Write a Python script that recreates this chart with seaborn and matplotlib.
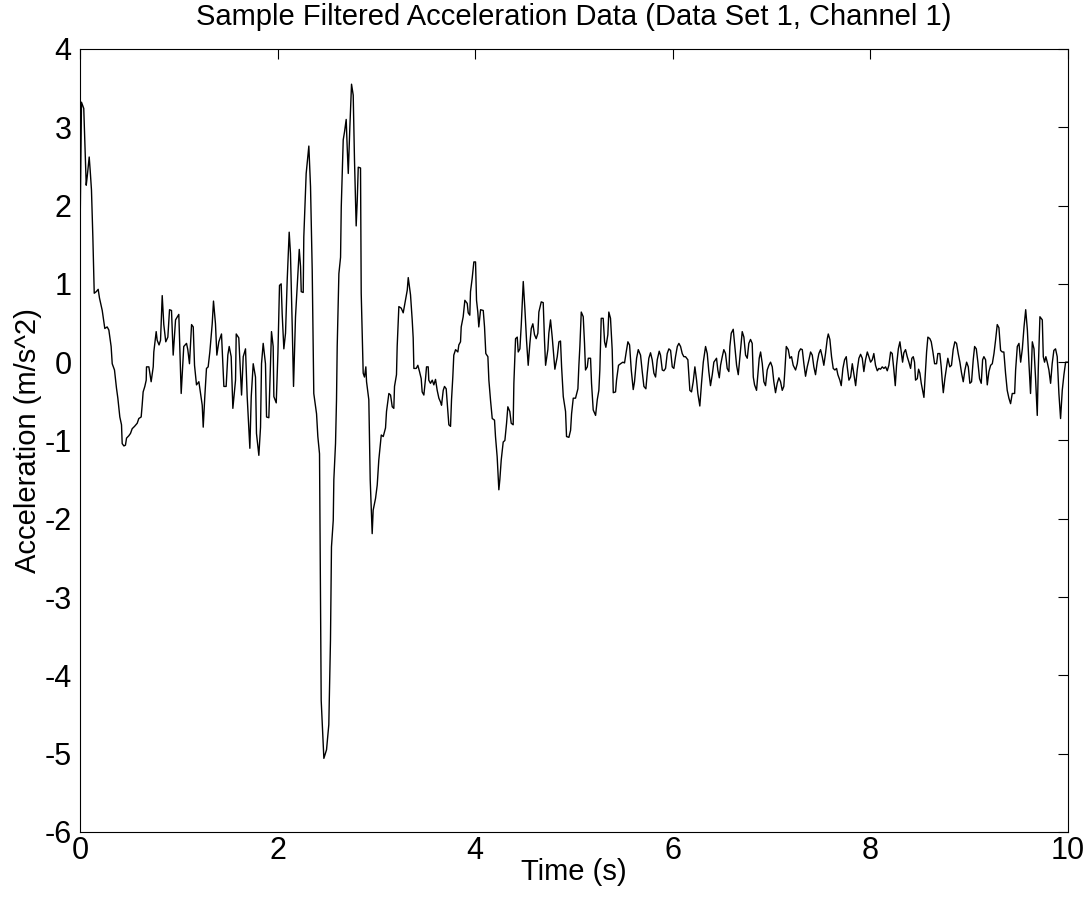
# acceleration trace, data set 1 channel 1
import numpy as np
import pandas as pd
import matplotlib
matplotlib.use('Agg')
import matplotlib.pyplot as plt
import seaborn as sns

# vertices (time in s, acceleration in m/s^2)
time_s = [
    0.0, 0.015, 0.038, 0.063, 0.073, 0.093, 0.103, 0.116, 0.13, 0.144, 0.164, 0.184, 0.197, 0.225, 0.251, 0.275, 0.292, 0.315,
    0.326, 0.349, 0.369, 0.383, 0.403, 0.42, 0.427, 0.444, 0.46, 0.471, 0.494, 0.511, 0.528, 0.552, 0.579, 0.595, 0.619, 0.629,
    0.639, 0.656, 0.67, 0.673, 0.697, 0.72, 0.741, 0.747, 0.771, 0.781, 0.80, 0.815, 0.832, 0.848, 0.868, 0.889, 0.906, 0.926,
    0.943, 0.967, 1.0, 1.024, 1.05, 1.078, 1.091, 1.108, 1.129, 1.146, 1.159, 1.179, 1.203, 1.22, 1.237, 1.247, 1.263, 1.28,
    1.297, 1.314, 1.338, 1.351, 1.371, 1.385, 1.405, 1.432, 1.456, 1.479, 1.496, 1.51, 1.53, 1.547, 1.574, 1.581, 1.607, 1.635,
    1.652, 1.675, 1.692, 1.719, 1.733, 1.753, 1.776, 1.786, 1.81, 1.827, 1.837, 1.854, 1.877, 1.888, 1.911, 1.928, 1.938, 1.955,
    1.962, 1.986, 2.003, 2.019, 2.036, 2.046, 2.063, 2.08, 2.097, 2.117, 2.13, 2.148, 2.161, 2.181, 2.198, 2.219, 2.232, 2.239,
    2.259, 2.265, 2.289, 2.316, 2.333, 2.35, 2.366, 2.394, 2.407, 2.424, 2.441, 2.468, 2.495, 2.518, 2.535, 2.545, 2.563, 2.569,
    2.586, 2.596, 2.603, 2.62, 2.637, 2.644, 2.664, 2.677, 2.694, 2.704, 2.715, 2.731, 2.748, 2.765, 2.778, 2.795, 2.806, 2.816,
    2.839, 2.846, 2.866, 2.879, 2.893, 2.9, 2.923, 2.937, 2.957, 2.967, 2.991, 3.008, 3.024, 3.049, 3.069, 3.092, 3.102, 3.126,
    3.143, 3.16, 3.176, 3.183, 3.203, 3.21, 3.227, 3.251, 3.271, 3.294, 3.312, 3.322, 3.345, 3.362, 3.372, 3.379, 3.403, 3.419,
    3.436, 3.453, 3.463, 3.48, 3.497, 3.507, 3.524, 3.53, 3.547, 3.565, 3.581, 3.598, 3.615, 3.632, 3.649, 3.659, 3.676, 3.689,
    3.706, 3.716, 3.733, 3.75, 3.76, 3.773, 3.783, 3.801, 3.824, 3.834, 3.851, 3.858, 3.878, 3.895, 3.919, 3.929, 3.945, 3.952,
    3.969, 3.986, 4.003, 4.013, 4.026, 4.036, 4.054, 4.081, 4.094, 4.107, 4.128, 4.138, 4.155, 4.172, 4.195, 4.205, 4.222, 4.239,
    4.249, 4.263, 4.283, 4.3, 4.317, 4.33, 4.35, 4.364, 4.384, 4.391, 4.408, 4.425, 4.435, 4.452, 4.466, 4.476, 4.486, 4.503,
    4.519, 4.536, 4.553, 4.567, 4.583, 4.6, 4.617, 4.634, 4.644, 4.668, 4.688, 4.701, 4.712, 4.735, 4.745, 4.762, 4.779, 4.796,
    4.806, 4.83, 4.847, 4.863, 4.874, 4.891, 4.914, 4.924, 4.948, 4.965, 4.975, 4.992, 5.015, 5.039, 5.049, 5.059, 5.073, 5.093,
    5.106, 5.116, 5.134, 5.144, 5.167, 5.177, 5.194, 5.218, 5.235, 5.251, 5.261, 5.275, 5.295, 5.309, 5.322, 5.342, 5.352, 5.369,
    5.386, 5.397, 5.42, 5.43, 5.45, 5.471, 5.494, 5.511, 5.528, 5.545, 5.562, 5.579, 5.599, 5.612, 5.633, 5.65, 5.673, 5.69,
    5.707, 5.727, 5.741, 5.757, 5.774, 5.791, 5.808, 5.825, 5.842, 5.862, 5.875, 5.893, 5.909, 5.926, 5.943, 5.96, 5.977, 5.994,
    6.01, 6.027, 6.045, 6.061, 6.078, 6.095, 6.111, 6.128, 6.152, 6.172, 6.189, 6.206, 6.223, 6.24, 6.253, 6.263, 6.273, 6.29,
    6.308, 6.331, 6.348, 6.364, 6.381, 6.399, 6.415, 6.442, 6.455, 6.47, 6.483, 6.5, 6.516, 6.533, 6.55, 6.567, 6.577, 6.591,
    6.611, 6.624, 6.645, 6.662, 6.685, 6.702, 6.719, 6.736, 6.753, 6.769, 6.786, 6.803, 6.814, 6.827, 6.847, 6.861, 6.874, 6.888,
    6.905, 6.921, 6.938, 6.955, 6.972, 6.989, 7.006, 7.022, 7.039, 7.056, 7.073, 7.09, 7.107, 7.123, 7.134, 7.148, 7.168, 7.184,
    7.201, 7.218, 7.242, 7.259, 7.275, 7.293, 7.31, 7.326, 7.343, 7.36, 7.377, 7.394, 7.411, 7.427, 7.444, 7.461, 7.478, 7.495,
    7.512, 7.528, 7.545, 7.563, 7.573, 7.589, 7.606, 7.623, 7.64, 7.657, 7.67, 7.69, 7.704, 7.721, 7.738, 7.755, 7.765, 7.782,
    7.799, 7.816, 7.833, 7.85, 7.866, 7.883, 7.9, 7.917, 7.933, 7.95, 7.968, 7.984, 8.001, 8.018, 8.034, 8.051, 8.069, 8.085,
    8.102, 8.119, 8.136, 8.153, 8.17, 8.186, 8.204, 8.22, 8.237, 8.251, 8.264, 8.282, 8.298, 8.312, 8.325, 8.338, 8.355, 8.372,
    8.389, 8.406, 8.419, 8.433, 8.446, 8.456, 8.474, 8.487, 8.5, 8.514, 8.527, 8.541, 8.555, 8.568, 8.581, 8.601, 8.615, 8.632,
    8.649, 8.669, 8.682, 8.702, 8.716, 8.726, 8.737, 8.753, 8.77, 8.783, 8.803, 8.82, 8.837, 8.854, 8.871, 8.888, 8.905, 8.922,
    8.939, 8.956, 8.973, 8.99, 9.006, 9.023, 9.04, 9.054, 9.071, 9.087, 9.104, 9.121, 9.135, 9.148, 9.165, 9.182, 9.199, 9.216,
    9.233, 9.25, 9.266, 9.283, 9.3, 9.317, 9.334, 9.35, 9.367, 9.384, 9.401, 9.418, 9.435, 9.459, 9.469, 9.486, 9.503, 9.52,
    9.537, 9.554, 9.571, 9.588, 9.604, 9.62, 9.638, 9.655, 9.671, 9.688, 9.698, 9.715, 9.739, 9.749, 9.762, 9.775, 9.789, 9.806,
    9.823, 9.839, 9.856, 9.873, 9.89, 9.907, 9.924, 9.941, 9.958, 9.975, 10.0,
]
accel = [
    1.6, 3.32, 3.24, 2.26, 2.37, 2.62, 2.45, 2.2, 1.6, 0.88, 0.9, 0.93, 0.82, 0.66, 0.43, 0.45, 0.41, 0.2,
    -0.02, -0.1, -0.33, -0.46, -0.7, -0.8, -1.04, -1.07, -1.06, -0.97, -0.94, -0.91, -0.85, -0.82, -0.78, -0.72, -0.7, -0.55,
    -0.38, -0.31, -0.23, -0.06, -0.06, -0.25, -0.06, 0.13, 0.39, 0.28, 0.22, 0.28, 0.85, 0.48, 0.26, 0.32, 0.67, 0.66,
    0.09, 0.54, 0.61, -0.4, 0.2, 0.24, 0.16, -0.02, 0.48, 0.45, -0.04, -0.29, -0.25, -0.4, -0.55, -0.83, -0.44, -0.08,
    -0.06, 0.13, 0.49, 0.78, 0.49, 0.09, 0.26, 0.36, -0.31, -0.31, 0.09, 0.2, 0.07, -0.59, -0.23, 0.36, 0.31, -0.42,
    0.07, 0.17, -0.44, -1.1, -0.44, -0.02, -0.19, -0.91, -1.19, -0.83, -0.02, 0.24, -0.02, -0.7, -0.71, -0.02, 0.39, 0.2,
    -0.44, -0.52, 0.11, 0.98, 1.0, 0.62, 0.17, 0.37, 1.05, 1.66, 1.39, 0.45, -0.31, 0.58, 0.96, 1.44, 1.22, 0.9,
    0.89, 1.6, 2.41, 2.76, 2.24, 1.18, -0.4, -0.66, -0.95, -1.17, -4.32, -5.06, -4.95, -4.63, -3.55, -2.36, -2.02, -1.5,
    -1.04, -0.48, 0.2, 1.13, 1.34, 1.98, 2.84, 2.94, 3.1, 2.75, 2.41, 3.0, 3.55, 3.41, 2.58, 1.74, 2.07, 2.49,
    2.48, 0.88, -0.14, -0.19, -0.06, -0.25, -0.48, -1.5, -2.19, -1.89, -1.74, -1.57, -1.25, -0.93, -0.95, -0.84, -0.63, -0.4,
    -0.42, -0.57, -0.59, -0.31, -0.16, 0.2, 0.71, 0.69, 0.63, 0.79, 0.92, 1.08, 0.86, 0.54, 0.31, -0.08, -0.08, -0.04,
    -0.12, -0.21, -0.38, -0.42, -0.21, -0.06, -0.06, -0.23, -0.27, -0.23, -0.29, -0.22, -0.36, -0.46, -0.51, -0.55, -0.36, -0.31,
    -0.34, -0.51, -0.8, -0.82, -0.48, -0.19, 0.09, 0.16, 0.13, 0.22, 0.26, 0.45, 0.58, 0.79, 0.75, 0.63, 0.6, 0.9,
    1.07, 1.28, 1.28, 0.79, 0.64, 0.45, 0.67, 0.66, 0.45, 0.11, 0.07, -0.23, -0.49, -0.72, -0.74, -0.95, -1.21, -1.63,
    -1.5, -1.25, -1.02, -1.0, -0.78, -0.57, -0.63, -0.78, -0.8, -0.27, 0.3, 0.32, 0.13, 0.17, 0.48, 0.75, 1.03, 0.67,
    0.28, -0.04, 0.24, 0.43, 0.49, 0.35, 0.3, 0.37, 0.64, 0.77, 0.76, 0.28, -0.04, 0.16, 0.37, 0.54, 0.32, 0.07,
    -0.09, 0.07, 0.26, 0.27, -0.06, -0.44, -0.63, -0.95, -0.96, -0.87, -0.66, -0.46, -0.46, -0.34, -0.04, 0.2, 0.64, 0.58,
    0.24, -0.1, -0.06, 0.05, 0.05, -0.27, -0.61, -0.68, -0.48, -0.36, -0.1, 0.56, 0.56, 0.26, 0.19, 0.35, 0.64, 0.56,
    0.16, -0.39, -0.38, -0.23, -0.04, -0.02, 0.0, -0.01, 0.13, 0.26, 0.22, -0.1, -0.35, -0.25, 0.05, 0.16, 0.09, -0.12,
    -0.31, -0.34, -0.14, 0.05, 0.12, 0.03, -0.14, -0.19, 0.03, 0.14, 0.09, -0.1, -0.11, -0.08, 0.11, 0.17, 0.15, -0.06,
    -0.08, 0.07, 0.2, 0.24, 0.2, 0.11, 0.07, 0.07, 0.03, -0.36, -0.38, -0.25, -0.06, -0.23, -0.4, -0.48, -0.56, -0.27,
    0.0, 0.2, 0.11, -0.12, -0.3, -0.16, 0.0, 0.05, -0.1, -0.2, -0.04, 0.07, 0.16, 0.11, -0.08, -0.12, 0.2, 0.37,
    0.42, 0.24, -0.04, -0.16, 0.16, 0.39, 0.32, 0.09, 0.05, 0.24, 0.29, 0.24, -0.19, -0.29, -0.36, -0.14, 0.05, 0.13,
    -0.02, -0.25, -0.3, -0.1, -0.04, 0.0, -0.06, -0.25, -0.39, -0.27, -0.2, -0.25, -0.36, -0.31, -0.1, 0.2, 0.16, 0.05,
    0.07, -0.04, -0.1, -0.02, 0.13, 0.17, 0.16, -0.02, -0.18, -0.06, 0.03, 0.13, 0.09, -0.06, -0.16, 0.0, 0.11, 0.16,
    0.07, -0.04, 0.11, 0.3, 0.36, 0.29, 0.07, -0.08, -0.1, -0.08, -0.16, -0.23, -0.3, -0.08, 0.03, 0.07, -0.06, -0.23,
    -0.19, -0.02, -0.16, -0.3, -0.1, 0.05, 0.1, 0.05, -0.12, 0.03, 0.13, 0.07, 0.0, 0.03, 0.11, -0.04, -0.11, -0.08,
    -0.09, -0.06, -0.08, -0.06, -0.11, -0.04, 0.13, 0.11, -0.1, -0.3, -0.04, 0.17, 0.26, 0.13, 0.0, 0.12, 0.16, 0.07,
    0.0, -0.08, 0.05, 0.07, 0.0, -0.23, -0.21, -0.09, -0.14, -0.27, -0.36, -0.45, -0.16, 0.13, 0.32, 0.3, 0.26, 0.13,
    -0.02, -0.02, 0.11, 0.11, -0.06, -0.23, -0.39, -0.21, -0.06, 0.05, -0.06, -0.04, 0.16, 0.26, 0.24, 0.11, 0.0, -0.14,
    -0.25, -0.1, 0.0, -0.06, -0.27, -0.25, 0.03, 0.2, 0.17, 0.0, -0.21, -0.27, 0.03, 0.07, 0.03, -0.29, -0.12, -0.04,
    -0.02, 0.11, 0.28, 0.48, 0.44, 0.15, 0.13, 0.13, -0.14, -0.36, -0.46, -0.53, -0.4, -0.4, -0.1, 0.2, 0.24, 0.0,
    0.17, 0.45, 0.67, 0.41, -0.02, -0.4, 0.26, 0.17, -0.21, -0.68, -0.1, 0.58, 0.54, 0.07, 0.0, 0.07, 0.0, -0.1,
    -0.27, -0.02, 0.15, 0.17, 0.07, -0.4, -0.72, -0.36, -0.16, 0.0, 0.0,
]

df = pd.DataFrame({'Time': time_s, 'Accel': accel})

sns.set_style('white')
plt.rcParams['font.family'] = ['Liberation Sans', 'DejaVu Sans']
plt.rcParams['axes.unicode_minus'] = False
plt.rcParams['xtick.direction'] = 'in'
plt.rcParams['ytick.direction'] = 'in'
plt.rcParams['text.color'] = 'black'
plt.rcParams['axes.labelcolor'] = 'black'

fig = plt.figure(figsize=(10.87, 9.0), dpi=100)
ax = fig.add_axes([0.0736, 0.0756, 0.909, 0.870])

sns.lineplot(data=df, x='Time', y='Accel', color='black', linewidth=1.0,
             estimator=None, sort=False, ax=ax)

ax.set_xlim(0, 10)
ax.set_ylim(-6, 4)
ax.set_xticks(np.arange(0, 11, 2))
ax.set_yticks(np.arange(-6, 5, 1))
ax.tick_params(axis='both', which='both', top=True, right=True, length=7, width=0.8,
               labelsize=22, colors='black')
ax.tick_params(axis='x', pad=3)
ax.tick_params(axis='y', pad=6)
for s in ax.spines.values():
    s.set_visible(True)
    s.set_color('black')
    s.set_linewidth(0.8)

ax.set_xlabel('Time (s)', fontsize=21, labelpad=-6, color='black')
ax.set_ylabel('Acceleration (m/s^2)', fontsize=21, labelpad=2, color='black')
ax.set_title('Sample Filtered Acceleration Data (Data Set 1, Channel 1)', fontsize=21, pad=17, color='black')

fig.savefig('out.png', dpi=100, facecolor='white')
